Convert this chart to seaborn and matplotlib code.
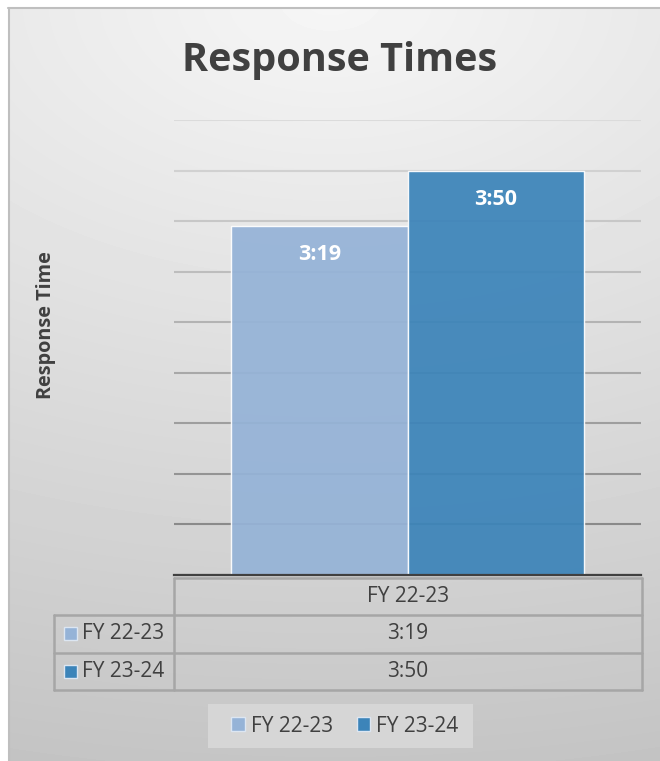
import numpy as np
import pandas as pd
import matplotlib
matplotlib.use("Agg")
import matplotlib.pyplot as plt
from matplotlib.patches import Rectangle
import seaborn as sns

# ---------------- data ----------------
title = "Response Times"
y_label = "Response Time"
category = "FY 22-23"
series = ["FY 22-23", "FY 23-24"]
values_mmss = ["3:19", "3:50"]
colors = ["#95B3D7", "#3C84B9"]
axis_max_days = 0.003
major_unit_days = 0.0003333333


def to_seconds(s):
    m, sec = s.split(":")
    return int(m) * 60 + int(sec)


seconds = [to_seconds(v) for v in values_mmss]
df = pd.DataFrame({"Category": [category] * len(series), "Series": series,
                   "Seconds": seconds, "Label": values_mmss})

sns.set_theme(style="white")
plt.rcParams["font.family"] = ["Open Sans", "DejaVu Sans"]
TXT = "#404040"

W, H = 660, 761
fig = plt.figure(figsize=(W / 100, H / 100), dpi=100)

# ---------------- background gradient ----------------
ax_bg = fig.add_axes([0, 0, 1, 1], zorder=-10)
yy, xx = np.mgrid[0:H, 0:W]
dist = np.sqrt((0.6 * (xx - 330)) ** 2 + yy ** 2)
val = np.clip((246 - 49 * dist / 760) / 255, 0, 1)
ax_bg.imshow(val, cmap="gray", vmin=0, vmax=1, extent=(0, W, H, 0),
             aspect="auto", interpolation="bilinear")
ax_bg.add_patch(Rectangle((0, 0), W, 7.5, color="white", lw=0))
ax_bg.add_patch(Rectangle((0, 0), 8, H, color="white", lw=0))
ax_bg.plot([8, W], [7.5, 7.5], color="#bfbfbf", lw=1.5)
ax_bg.plot([8.7, 8.7], [7.5, H], color="#bfbfbf", lw=1.5)
ax_bg.set_xlim(0, W)
ax_bg.set_ylim(H, 0)
ax_bg.axis("off")

# ---------------- main plot ----------------
L, R, T, B = 174, 641, 120, 575
ax = fig.add_axes([L / W, 1 - B / H, (R - L) / W, (B - T) / H], zorder=1)
ax.set_facecolor("none")
sns.barplot(data=df, x="Category", y="Seconds", hue="Series", palette=colors,
            saturation=1, width=0.754, ax=ax, edgecolor="white", linewidth=1,
            alpha=0.93)
handles, labels = ax.get_legend_handles_labels()
if ax.get_legend() is not None:
    ax.get_legend().remove()

ymax = axis_max_days * 86400
step = major_unit_days * 86400
ax.set_ylim(0, ymax)
ax.set_xlim(-0.5, 0.5)
ax.set_yticks(np.arange(0, ymax + 1, step))
ax.set_yticklabels([])
ax.set_xticks([])
ax.set_xlabel("")
ax.set_ylabel("")
ax.tick_params(length=0)
ax.set_axisbelow(True)
ax.yaxis.grid(True)
gls = ax.get_ygridlines()
n = len(gls)
for i, gl in enumerate(gls):
    f = i / max(n - 1, 1)
    c = 0x80 + (0xdb - 0x80) * f
    gl.set_color((c / 255, c / 255, c / 255))
    gl.set_linewidth(1.5)
for s in ["top", "right", "left"]:
    ax.spines[s].set_visible(False)
ax.spines["bottom"].set_color("#404040")
ax.spines["bottom"].set_linewidth(1.6)

for cont, lbl in zip(ax.containers, values_mmss):
    for p in cont:
        ax.annotate(lbl, (p.get_x() + p.get_width() / 2, p.get_height()),
                    xytext=(0, -20.5), textcoords="offset points",
                    ha="center", va="center", color="white",
                    fontsize=15.5, fontweight="bold")

# ---------------- titles ----------------
fig.text(340 / W, 1 - 61 / H, title, ha="center", va="center",
         fontsize=28.5, fontweight="bold", color=TXT)
fig.text(46 / W, 1 - 325 / H, y_label, ha="center", va="center",
         rotation=90, fontsize=14.3, fontweight="bold", color=TXT)

# ---------------- data table ----------------
ax_t = fig.add_axes([0, 0, 1, 1], zorder=5)
ax_t.set_xlim(0, W)
ax_t.set_ylim(H, 0)
ax_t.axis("off")
gc = "#a6a6a6"
lw = 1.8
x0, xs, x1 = 54, 174, 641.5
y0, row_h = 577.5, 37.6
ys = [y0 + row_h * k for k in range(len(series) + 2)]
ax_t.plot([xs, x1], [ys[0], ys[0]], color=gc, lw=lw)
for yv in ys[1:]:
    ax_t.plot([x0, x1], [yv, yv], color=gc, lw=lw)
ax_t.plot([x0, x0], [ys[1], ys[-1]], color=gc, lw=lw)
ax_t.plot([xs, xs], [ys[0], ys[-1]], color=gc, lw=lw)
ax_t.plot([x1, x1], [ys[0], ys[-1]], color=gc, lw=lw)
xc = (xs + x1) / 2
ax_t.text(xc, (ys[0] + ys[1]) / 2, category, ha="center", va="center",
          fontsize=15, color=TXT)
for k, (sname, v, col) in enumerate(zip(series, values_mmss, colors)):
    yc = (ys[k + 1] + ys[k + 2]) / 2
    ax_t.text(xc, yc, v, ha="center", va="center", fontsize=15, color=TXT)
    ax_t.add_patch(Rectangle((63.5, yc - 6.5), 13, 13, facecolor=col,
                             edgecolor="#dce6f2", lw=1))
    ax_t.text(82, yc, sname, ha="left", va="center", fontsize=15, color=TXT)

# ---------------- legend ----------------
ax_t.add_patch(Rectangle((208, 704), 265, 44, facecolor="#d9d9d9",
                         edgecolor="none", alpha=0.85))
leg = fig.legend(handles, labels, loc="center", ncol=2,
                 bbox_to_anchor=(345 / W, 1 - 726 / H), frameon=False,
                 fontsize=15, handlelength=0.63, handleheight=0.63,
                 handletextpad=0.3, columnspacing=1.15, labelcolor=TXT)
leg.set_zorder(10)
for h in leg.legend_handles:
    h.set_edgecolor("#dce6f2")
    h.set_alpha(1)

fig.savefig("out.png", dpi=100)
